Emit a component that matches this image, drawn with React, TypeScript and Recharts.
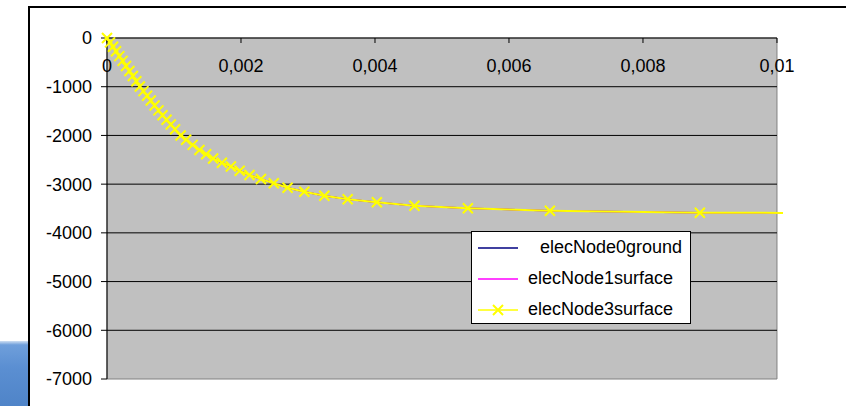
import { Legend, Line, LineChart, ReferenceArea, ReferenceLine, XAxis, YAxis } from "recharts";

// time (s)
const time = [
    0, 0.000045, 0.00009, 0.000135, 0.000184, 0.000233, 0.000284, 0.000335, 0.000386, 0.000438,
    0.00049, 0.000544, 0.000598, 0.000653, 0.00071, 0.000768, 0.000828, 0.000889, 0.000952, 0.001016,
    0.001098, 0.001181, 0.001278, 0.00138, 0.00148, 0.001584, 0.001715, 0.001849, 0.001981, 0.002127,
    0.002298, 0.002489, 0.002695, 0.002945, 0.003244, 0.003592, 0.004028, 0.004589, 0.005386, 0.006611,
    0.008849, 0.01009,
];

const elecNode0ground = [
    0, -90, -181, -271, -372, -470, -575, -677, -780, -887,
    -994, -1090, -1184, -1283, -1384, -1486, -1585, -1679, -1776, -1874,
    -2001, -2088, -2194, -2299, -2387, -2472, -2560, -2638, -2726, -2812,
    -2894, -2981, -3073, -3155, -3237, -3311, -3373, -3445, -3496, -3545,
    -3586, -3590,
];

const elecNode1surface = [
    0, -90, -181, -271, -372, -470, -575, -677, -780, -887,
    -994, -1090, -1184, -1283, -1384, -1486, -1585, -1679, -1776, -1874,
    -2001, -2088, -2194, -2299, -2387, -2472, -2560, -2638, -2726, -2812,
    -2894, -2981, -3073, -3155, -3237, -3311, -3373, -3445, -3496, -3545,
    -3586, -3590,
];

const elecNode3surface = [
    0, -90, -181, -271, -372, -470, -575, -677, -780, -887,
    -994, -1090, -1184, -1283, -1384, -1486, -1585, -1679, -1776, -1874,
    -2001, -2088, -2194, -2299, -2387, -2472, -2560, -2638, -2726, -2812,
    -2894, -2981, -3073, -3155, -3237, -3311, -3373, -3445, -3496, -3545,
    -3586, -3590,
];

const xTicks = [0, 0.002, 0.004, 0.006, 0.008, 0.01];
const yTicks = [-7000, -6000, -5000, -4000, -3000, -2000, -1000, 0];

const series = [
    { key: "node0", name: "elecNode0ground", color: "#000080", marker: false },
    { key: "node1", name: "elecNode1surface", color: "#FF00FF", marker: false },
    { key: "node3", name: "elecNode3surface", color: "#FFFF00", marker: true },
];

const data = time.map((t, i) => ({
    t,
    node0: elecNode0ground[i],
    node1: elecNode1surface[i],
    node3: elecNode3surface[i],
}));

const font = "'Liberation Sans', Arial, sans-serif";

function Cross(props: any) {
    const { cx, cy, payload, index } = props;
    if (payload.t > xTicks[xTicks.length - 1]) return <g key={index} />;
    return (
        <path
            key={index}
            d={`M${cx - 5},${cy - 5}L${cx + 5},${cy + 5}M${cx + 5},${cy - 5}L${cx - 5},${cy + 5}`}
            stroke="#FFFF00"
            strokeWidth={2}
            fill="none"
        />
    );
}

function LegendBox() {
    return (
        <div
            style={{
                width: 218,
                height: 91,
                border: "1px solid #000",
                background: "#fff",
                fontFamily: font,
                fontSize: 18,
                color: "#000",
            }}
        >
            {series.map((s, i) => (
                <div key={s.key} style={{ display: "flex", alignItems: "center", height: 31 }}>
                    <svg width={40} height={14} style={{ marginLeft: 6, flex: "none" }}>
                        <line x1={0} y1={7} x2={40} y2={7} stroke={s.color} strokeWidth={1.5} />
                        {s.marker && (
                            <path d="M15,2L25,12M25,2L15,12" stroke={s.color} strokeWidth={2} />
                        )}
                    </svg>
                    <span style={{ marginLeft: i === 0 ? 22 : 10, whiteSpace: "nowrap" }}>{s.name}</span>
                </div>
            ))}
        </div>
    );
}

export default function App() {
    const tickStyle = { fill: "#000", fontSize: 18, fontFamily: font };

    return (
        <div style={{ position: "absolute", left: 0, top: 0, width: 846, height: 406, background: "#fff", overflow: "hidden" }}>
            <div
                style={{
                    position: "absolute",
                    left: 0,
                    top: 341,
                    width: 28,
                    height: 65,
                    background: "linear-gradient(to bottom, #cfdff2 0%, #6f9fdb 6%, #5b8fd2 40%, #4f84c8 100%)",
                }}
            />
            <div
                style={{
                    position: "absolute",
                    left: 28,
                    top: 6,
                    width: 840,
                    height: 420,
                    borderLeft: "2px solid #000",
                    borderTop: "2px solid #000",
                }}
            />
            <div style={{ position: "absolute", left: 0, top: 0 }}>
                <LineChart width={846} height={406} data={data} margin={{ top: 38, right: 63, bottom: 27, left: 0 }}>
                    <XAxis
                        dataKey="t"
                        type="number"
                        orientation="top"
                        mirror
                        domain={[0, "dataMax"]}
                        ticks={xTicks}
                        interval={0}
                        axisLine={false}
                        tickLine={{ stroke: "#000" }}
                        tickSize={5}
                        tickMargin={16}
                        tick={tickStyle}
                        tickFormatter={(v) => String(v).replace(".", ",")}
                    />
                    <YAxis
                        type="number"
                        domain={[-7000, 0]}
                        ticks={yTicks}
                        interval={0}
                        width={107}
                        axisLine={{ stroke: "#000" }}
                        tickLine={{ stroke: "#000" }}
                        tickSize={6}
                        tickMargin={9}
                        tick={tickStyle}
                    />
                    <ReferenceArea
                        x1={xTicks[0]}
                        x2={xTicks[xTicks.length - 1]}
                        y1={yTicks[0]}
                        y2={yTicks[yTicks.length - 1]}
                        fill="#C0C0C0"
                        fillOpacity={1}
                        stroke="#808080"
                        zIndex={10}
                    />
                    {yTicks.slice(1).map((y) => (
                        <ReferenceLine
                            key={y}
                            segment={[
                                { x: xTicks[0], y },
                                { x: xTicks[xTicks.length - 1], y },
                            ]}
                            stroke="#000"
                            strokeWidth={1}
                            zIndex={20}
                        />
                    ))}
                    <Legend
                        layout="vertical"
                        align="center"
                        verticalAlign="middle"
                        content={<LegendBox />}
                        wrapperStyle={{ left: 471, top: 231, width: 222, height: 93 }}
                    />
                    {series.map((s) => (
                        <Line
                            key={s.key}
                            dataKey={s.key}
                            name={s.name}
                            type="linear"
                            stroke={s.color}
                            strokeWidth={s.marker ? 2 : 1.5}
                            dot={s.marker ? Cross : false}
                            activeDot={false}
                            isAnimationActive={false}
                        />
                    ))}
                </LineChart>
            </div>
        </div>
    );
}
